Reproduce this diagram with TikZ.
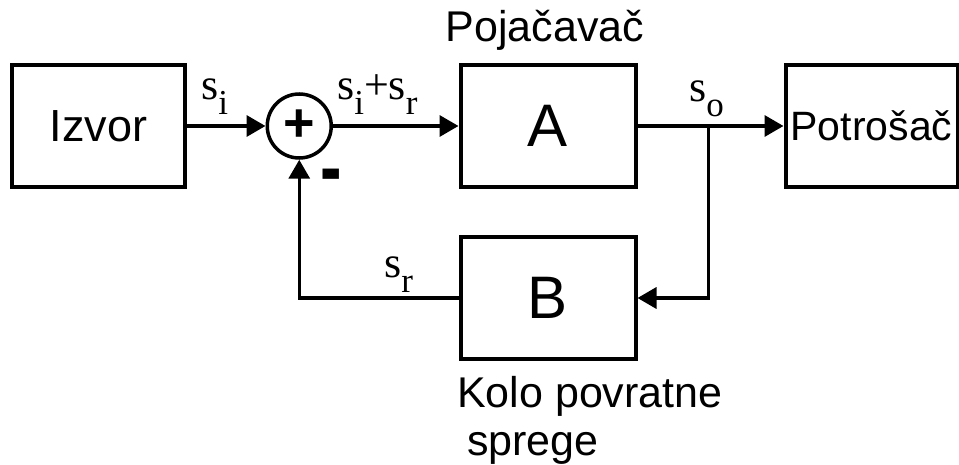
\documentclass[tikz,border=0pt]{standalone}
\usepackage{fontspec}
\setmainfont{Liberation Sans}
\newfontfamily\sigfont{Liberation Serif}
\usepackage{graphicx}
\usetikzlibrary{arrows.meta,positioning}
\newcommand{\sig}[1]{s\raisebox{-15pt}{\fontsize{35}{35}\selectfont #1}}
\tikzset{
  blocknode/.style={rectangle,draw=black,line width=4pt,inner sep=0pt,
                    minimum width=173pt,minimum height=122pt,
                    font=\fontsize{45}{45}\selectfont},
  bignode/.style={blocknode,minimum width=175pt,font=\fontsize{60}{60}\selectfont},
  sumnode/.style={circle,draw=black,line width=3.5pt,inner sep=0pt,minimum size=64pt,
                  font=\fontsize{54}{54}\selectfont\bfseries},
  arr/.style={-{Triangle[length=19pt,width=21pt]},line width=3.5pt},
  siglbl/.style={inner sep=0pt,anchor=base west,font=\sigfont\fontsize{44}{44}\selectfont},
  txtlbl/.style={inner sep=0pt,font=\fontsize{43}{48}\selectfont}
}
\begin{document}
\begin{tikzpicture}[x=1pt,y=-1pt]
  \useasboundingbox (0,0) rectangle (959,465);

  % forward path
  \node[blocknode] (izvor) at (98.5,126) {Izvor};
  \node[sumnode,right=78.5pt of izvor] (sum) {+};
  \node[bignode,right=125.5pt of sum] (ampA) {A};
  \node[blocknode,minimum width=172pt,font=\fontsize{41}{41}\selectfont,
        right=146pt of ampA] (potr) {Potrošač};

  % feedback block
  \node[bignode,below=46pt of ampA] (fbB) {B};

  % captions
  \node[txtlbl,anchor=base] (pojac) at (545,42) {Pojačavač};
  \node[txtlbl,anchor=base west] (kolo) at (457,407) {Kolo povratne};
  \node[txtlbl,anchor=base west] (sprege) at (467,455) {sprege};

  % signals
  \node[siglbl] (si) at (201,100) {\sig{i}};
  \node[siglbl] (sisr) at (337,100) {\sig{i}+\sig{r}};
  \node[siglbl] (so) at (689,102) {\sig{o}};
  \node[siglbl] (sr) at (384,277) {\sig{r}};
  \node[txtlbl,anchor=base west] (minus) at (320,197)
      {\scalebox{1.5}[2]{\bfseries -}};

  \coordinate (tap) at ([xshift=71pt]ampA.east);

  \draw[arr] (izvor.east) -- (sum.west);
  \draw[arr] (sum.east) -- (ampA.west);
  \draw[arr] (ampA.east) -- (potr.west);
  \draw[arr] (tap) |- (fbB.east);
  \draw[arr] (fbB.west) -| (sum.south);

\end{tikzpicture}
\end{document}
